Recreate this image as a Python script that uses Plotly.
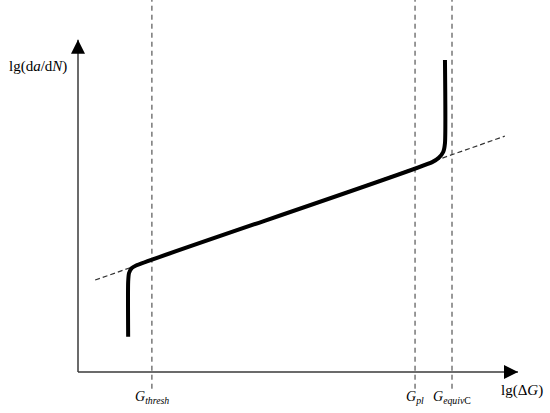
import plotly.graph_objects as go

# schematic crack growth curve, in lg units (axis origin at 0,0)
curve_x = [1.14, 1.14, 1.16, 1.22, 1.32, 8.05, 8.20, 8.30, 8.34, 8.34]
curve_y = [0.80, 2.05, 2.25, 2.36, 2.42, 4.77, 4.87, 5.00, 5.20, 7.09]

# Paris-law extension (dashed)
paris_x = [0.39, 9.70]
paris_y = [2.09, 5.36]

# characteristic thresholds
g_names = ['<i>G</i><sub><i>thresh</i></sub>', '<i>G</i><sub><i>pl</i></sub>',
           '<i>G</i><sub><i>equiv</i>C</sub>']
g_x = [1.68, 7.66, 8.50]
g_top = 8.6
g_bottom = -0.38

x_end = 10.0
y_end = 7.55

serif = 'Liberation Serif'
axis_col = '#3a3a3a'

fig = go.Figure()

for gx in g_x:
    fig.add_trace(go.Scatter(x=[gx, gx], y=[g_bottom, g_top], mode='lines',
                             line=dict(color='#333333', width=1, dash='5px,4px'),
                             hoverinfo='skip', showlegend=False))

fig.add_trace(go.Scatter(x=paris_x, y=paris_y, mode='lines',
                         line=dict(color='#333333', width=1.2, dash='5px,3px'),
                         showlegend=False))

fig.add_trace(go.Scatter(x=curve_x, y=curve_y, mode='lines',
                         line=dict(color='black', width=4, shape='spline', smoothing=0.6),
                         showlegend=False))

# axes with arrow heads
fig.add_trace(go.Scatter(x=[0, 0], y=[0, y_end], mode='lines',
                         line=dict(color=axis_col, width=1.5), showlegend=False))
fig.add_trace(go.Scatter(x=[0, x_end], y=[0, 0], mode='lines',
                         line=dict(color=axis_col, width=1.5), showlegend=False))
fig.add_trace(go.Scatter(x=[0, x_end], y=[y_end, 0], mode='markers',
                         marker=dict(symbol=['arrow-up', 'arrow-right'], size=14,
                                     color='black', line=dict(width=0)),
                         showlegend=False))

fig.add_annotation(x=-0.91, y=6.95, text='lg(d<i>a</i>/d<i>N</i>)', showarrow=False,
                   font=dict(family=serif, size=15, color='black'))
fig.add_annotation(x=10.09, y=-0.41, text='lg(Δ<i>G</i>)', showarrow=False,
                   font=dict(family=serif, size=15, color='black'))

for name, gx in zip(g_names, g_x):
    fig.add_annotation(x=gx, y=-0.59, text=name, showarrow=False,
                       font=dict(family=serif, size=14, color='black'))

fig.update_xaxes(range=[-78/44, 472/44], visible=False)
fig.update_yaxes(range=[-41/44, 372/44], visible=False)
fig.update_layout(width=550, height=413, margin=dict(l=0, r=0, t=0, b=0),
                  plot_bgcolor='white', paper_bgcolor='white')

fig.write_html("out.html", config={'displayModeBar': False},
               post_script="document.body.style.margin='0';")
